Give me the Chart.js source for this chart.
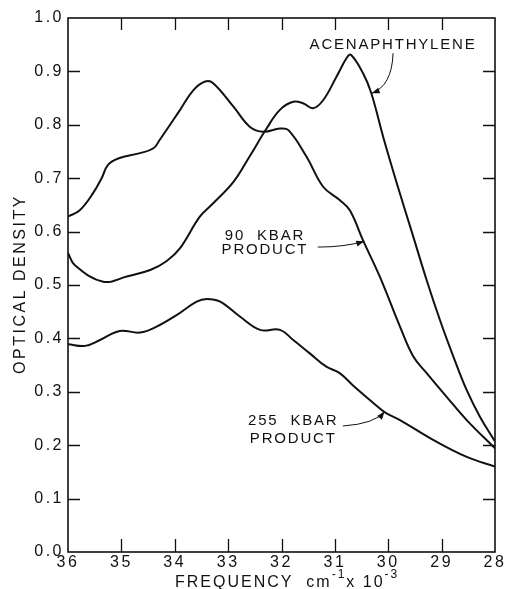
<!DOCTYPE html>
<html>
<head>
<meta charset="utf-8">
<script src="https://cdn.jsdelivr.net/npm/chart.js@4.4.1/dist/chart.umd.min.js"></script>
<style>
  html, body { margin: 0; padding: 0; background: #fff; }
</style>
</head>
<body>
<canvas id="chart" width="506" height="589"></canvas>
<script>
// Acenaphthylene
const acenFreq = [36.0, 35.87, 35.34, 34.90, 34.46, 34.15, 33.90, 33.53, 33.28, 32.90, 32.59, 32.28, 32.03, 31.78, 31.59, 31.41, 31.22, 30.97, 30.78, 30.70, 30.47, 30.32, 30.08, 29.82, 29.56, 29.28, 29.03, 28.78, 28.53, 28.28, 28.0];
const acenOD   = [0.560, 0.537, 0.506, 0.516, 0.528, 0.545, 0.569, 0.628, 0.653, 0.693, 0.742, 0.793, 0.828, 0.843, 0.840, 0.831, 0.846, 0.890, 0.925, 0.931, 0.896, 0.860, 0.772, 0.684, 0.600, 0.509, 0.434, 0.366, 0.303, 0.253, 0.207];

// 90 kbar product
const kbar90Freq = [36.0, 35.78, 35.53, 35.37, 35.25, 35.06, 34.65, 34.40, 34.28, 33.90, 33.65, 33.43, 33.28, 32.90, 32.59, 32.34, 32.03, 31.87, 31.53, 31.22, 30.91, 30.72, 30.47, 30.16, 29.78, 29.53, 29.28, 28.91, 28.53, 28.0];
const kbar90OD   = [0.628, 0.640, 0.672, 0.700, 0.725, 0.737, 0.747, 0.756, 0.772, 0.828, 0.865, 0.881, 0.878, 0.834, 0.796, 0.787, 0.793, 0.790, 0.740, 0.684, 0.659, 0.640, 0.583, 0.516, 0.422, 0.366, 0.335, 0.291, 0.247, 0.194];

// 255 kbar product
const kbar255Freq = [36.0, 35.68, 35.40, 35.03, 34.65, 34.34, 33.96, 33.59, 33.40, 33.15, 32.78, 32.40, 32.03, 31.78, 31.47, 31.16, 30.91, 30.66, 30.23, 30.04, 29.78, 29.16, 28.53, 28.0];
const kbar255OD   = [0.389, 0.386, 0.397, 0.414, 0.411, 0.422, 0.444, 0.469, 0.474, 0.469, 0.441, 0.416, 0.416, 0.397, 0.372, 0.347, 0.335, 0.312, 0.275, 0.260, 0.247, 0.210, 0.178, 0.160];

const xTicks = [36, 35, 34, 33, 32, 31, 30, 29, 28];
const yTicks = [0.0, 0.1, 0.2, 0.3, 0.4, 0.5, 0.6, 0.7, 0.8, 0.9, 1.0];

// callout labels in data units (x centre, baseline of each line)
const labels = [
    { lines: ['ACENAPHTHYLENE'], x: 29.91, y: [0.942] },
    { lines: ['90  KBAR', 'PRODUCT'], x: 32.31, y: [0.584, 0.558] },
    { lines: ['255  KBAR', 'PRODUCT'], x: 31.78, y: [0.238, 0.204] }
];
// arrows: start, control, tip (data units)
const arrows = [
    [[29.91, 0.934], [29.93, 0.873], [30.31, 0.859]],
    [[31.32, 0.571], [30.81, 0.571], [30.45, 0.582]],
    [[30.85, 0.236], [30.25, 0.240], [30.07, 0.263]]
];

const FAMILY = '"Liberation Sans", Arial, sans-serif';

function toPoints(xs, ys) {
    return xs.map((x, i) => ({ x: x, y: ys[i] }));
}

function line(data) {
    return {
        data: data,
        borderColor: '#111',
        borderWidth: 2,
        pointRadius: 0,
        fill: false,
        tension: 0.4
    };
}

const decorations = {
    id: 'decorations',
    beforeDraw(chart) {
        chart.ctx.letterSpacing = '2.5px';
    },
    afterDraw(chart) {
        const ctx = chart.ctx;
        const xs = chart.scales.x;
        const ys = chart.scales.y;
        const a = chart.chartArea;

        ctx.save();
        ctx.strokeStyle = '#111';
        ctx.fillStyle = '#111';

        // frame
        ctx.lineWidth = 1.6;
        ctx.strokeRect(a.left, a.top, a.right - a.left, a.bottom - a.top);

        // inner ticks on all four sides
        ctx.lineWidth = 1.3;
        ctx.beginPath();
        xTicks.slice(1, -1).forEach(v => {
            const px = Math.round(xs.getPixelForValue(v)) + 0.5;
            ctx.moveTo(px, a.bottom); ctx.lineTo(px, a.bottom - 13);
            ctx.moveTo(px, a.top); ctx.lineTo(px, a.top + 12);
        });
        yTicks.slice(1, -1).forEach(v => {
            const py = Math.round(ys.getPixelForValue(v)) + 0.5;
            ctx.moveTo(a.left, py); ctx.lineTo(a.left + 12, py);
            ctx.moveTo(a.right, py); ctx.lineTo(a.right - 12, py);
        });
        ctx.stroke();

        // axis titles
        ctx.font = '16px ' + FAMILY;
        ctx.textBaseline = 'alphabetic';
        ctx.letterSpacing = '2.5px';
        ctx.save();
        ctx.translate(25, 284);
        ctx.rotate(-Math.PI / 2);
        ctx.textAlign = 'center';
        ctx.fillText('OPTICAL DENSITY', 0, 0);
        ctx.restore();

        ctx.letterSpacing = '2px';
        ctx.textAlign = 'left';
        let tx = 175;
        const base = 587;
        const parts = [['FREQUENCY  cm', 0], ['-1', 1], ['x 10', 0], ['-3', 1]];
        parts.forEach(p => {
            ctx.font = (p[1] ? '12px ' : '16px ') + FAMILY;
            const dy = p[1] ? -9 : 0;
            ctx.fillText(p[0], tx, base + dy);
            tx += ctx.measureText(p[0]).width;
        });

        // callout labels
        ctx.font = '15px ' + FAMILY;
        ctx.textAlign = 'center';
        ctx.letterSpacing = '1.8px';
        labels.forEach(l => {
            const px = xs.getPixelForValue(l.x);
            l.lines.forEach((t, i) => ctx.fillText(t, px, ys.getPixelForValue(l.y[i])));
        });

        // arrows
        ctx.lineWidth = 1;
        arrows.forEach(ar => {
            const p = ar.map(q => [xs.getPixelForValue(q[0]), ys.getPixelForValue(q[1])]);
            ctx.beginPath();
            ctx.moveTo(p[0][0], p[0][1]);
            ctx.quadraticCurveTo(p[1][0], p[1][1], p[2][0], p[2][1]);
            ctx.stroke();
            const ang = Math.atan2(p[2][1] - p[1][1], p[2][0] - p[1][0]);
            const len = 8, w = 3;
            ctx.beginPath();
            ctx.moveTo(p[2][0], p[2][1]);
            ctx.lineTo(p[2][0] - len * Math.cos(ang) + w * Math.sin(ang), p[2][1] - len * Math.sin(ang) - w * Math.cos(ang));
            ctx.lineTo(p[2][0] - len * Math.cos(ang) - w * Math.sin(ang), p[2][1] - len * Math.sin(ang) + w * Math.cos(ang));
            ctx.closePath();
            ctx.fill();
        });

        ctx.restore();
    }
};

new Chart(document.getElementById('chart'), {
    type: 'scatter',
    data: {
        datasets: [
            line(toPoints(acenFreq, acenOD)),
            line(toPoints(kbar90Freq, kbar90OD)),
            line(toPoints(kbar255Freq, kbar255OD))
        ]
    },
    options: {
        responsive: false,
        animation: false,
        showLine: true,
        layout: { padding: { top: 18, right: 11, left: 0, bottom: 0 } },
        plugins: { legend: { display: false }, tooltip: { enabled: false } },
        scales: {
            x: {
                type: 'linear',
                reverse: true,
                min: 28,
                max: 36,
                afterFit: s => { s.height = 37; },
                afterBuildTicks: s => { s.ticks = xTicks.map(v => ({ value: v })); },
                grid: { display: false, drawTicks: false },
                border: { display: false },
                ticks: {
                    color: '#111',
                    font: { family: FAMILY, size: 16 },
                    padding: 1,
                    maxRotation: 0,
                    autoSkip: false,
                    callback: v => String(v)
                }
            },
            y: {
                min: 0,
                max: 1,
                afterFit: s => { s.width = 68; },
                afterBuildTicks: s => { s.ticks = yTicks.map(v => ({ value: v })); },
                grid: { display: false, drawTicks: false },
                border: { display: false },
                ticks: {
                    color: '#111',
                    font: { family: FAMILY, size: 16 },
                    padding: 4,
                    autoSkip: false,
                    callback: v => v.toFixed(1)
                }
            }
        }
    },
    plugins: [decorations]
});
</script>
</body>
</html>
